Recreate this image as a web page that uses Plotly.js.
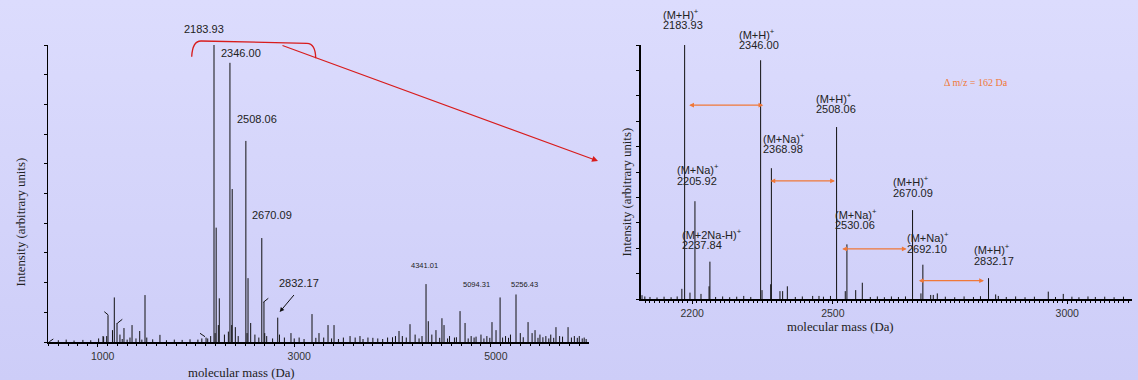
<!DOCTYPE html>
<html><head><meta charset="utf-8">
<script src="https://cdn.plot.ly/plotly-3.0.1.min.js"></script>
<style>
html,body{margin:0;padding:0;width:1138px;height:380px;overflow:hidden;background:linear-gradient(to bottom,#dcdcfd 0%,#cdcdf8 100%);}
#chart{width:1138px;height:380px;}
</style>
</head><body><div id="chart"></div>
<script>
// ---------- DATA ----------
// main (M+H)+ series
const mhMass = [2183.93, 2346.00, 2508.06, 2670.09, 2832.17];
const mhInt  = [100, 94, 67.7, 35, 8.2];
// (M+Na)+ series
const naMass = [2205.92, 2368.98, 2530.06, 2692.10];
const naInt  = [38.5, 51.5, 21.5, 13.5];
// (M+2Na-H)+
const na2Mass = [2237.84];
const na2Int  = [14.7];
// labelled high-mass peaks (full spectrum)
const hiMass = [4341.01, 5094.31, 5256.43];
const hiInt  = [19.5, 15, 16];
// other peaks & baseline noise, full spectrum
const fullMinorMass = [600,680,760,850,930,1010,1054.6,1061,1092,1105.5,1151,1169.6,1197,1227,1250,1268,1300,1329,1350,1390,1428,1450,1482,1500,1560,1634,1700,1780,1860,1940,2020,2060,2103,2120,2150,2195,2228,2290,2330,2364,2401,2430,2520,2557,2600,2640,2700,2720,2780,2850,2900,2967,3000,3050,3100,3181,3220,3252,3300,3344,3380,3405,3450,3500,3568,3620,3669,3700,3750,3800,3850,3900,3950,4000,4030,4066,4100,4140,4178,4230,4270,4300,4364,4400,4442,4480,4503,4524,4560,4580,4630,4650,4687,4738,4770,4800,4830,4850,4900,4930,4960,4990,5012,5053,5120,5150,5180,5200,5300,5330,5379,5420,5450,5480,5500,5530,5560,5590,5610,5640,5663,5700,5730,5786,5820,5850,5880,5900,5930,5950,5970];
const fullMinorInt  = [0.6,0.8,0.5,0.7,0.6,1.2,2,1.8,2,9,4,15,6.4,2.5,1.0,4.7,0.8,1.5,5.7,1.2,3.7,0.8,15.8,1.5,0.9,2.4,0.6,0.8,0.7,0.9,0.8,1.2,1.5,1.2,2,3,5.7,2.5,3.5,5.7,5,2,3,6.4,2.5,1.5,3,2,1.2,2.5,1.5,3,1.2,1.5,1.0,9.4,1.4,3,1.5,5.7,1.2,5.7,1.0,1.5,2,1.5,2,1.0,1.5,1.4,1.2,1.0,1.5,1.6,2.0,3.7,2,1.5,6,2.5,1.2,2,7,2.5,4,1.4,8,5.7,1.2,2,1.5,1.6,10.4,6.4,1.2,2,1.5,1.8,2.5,1.2,2,1.4,6.7,4,1.5,2,1.4,2.5,3,1.6,6.7,3,4,1.4,2.5,1.6,2,1.2,2.5,1.4,5,2,1.8,5,1.5,2,1.4,2,1.2,1.5,1.0];
// other peaks & baseline noise, zoomed spectrum
const zoomMinorMass = [2093,2099,2110,2125,2140,2155,2168,2178,2195.3,2218.8,2236,2250,2265,2280,2295,2310,2325,2349,2367.5,2387.3,2393,2403,2420,2435,2457,2470.5,2480,2495,2526.6,2548.8,2562.9,2580,2595,2610,2625,2640,2655,2688,2708.8,2714.3,2722.9,2740,2760,2780,2800,2815,2847.4,2853,2870,2890,2910,2930,2959.6,2975,2991.6,3010,3025,3044.3,3060,3080,3100,3120];
const zoomMinorInt  = [1.5,1,0.8,0.6,0.9,0.7,1.0,4,2.5,2,5,0.8,1.0,0.7,0.9,1.2,0.8,3.5,5.8,3.1,3.1,5,0.8,1.0,1.2,1.2,0.9,1.2,3.1,3.5,6.4,0.8,1.0,0.7,1.0,0.8,1.0,2.2,1.6,1.6,2.2,0.9,0.7,1.0,0.8,1.1,1.8,1.2,0.8,1.0,0.7,0.9,2.9,0.8,2,0.9,0.7,1,0.8,0.9,0.7,0.9];
// axis ticks
const fullTicks = [1000, 3000, 5000];
const zoomTicks = [2200, 2500, 3000];
// ion labels for zoom panel
const mhLabel = '(M+H)<sup>+</sup>';
const naLabel = '(M+Na)<sup>+</sup>';
const na2Label = '(M+2Na-H)<sup>+</sup>';

// ---------- HELPERS ----------
function sticks(masses, ints) {
  const x = [], y = [];
  for (let k = 0; k < masses.length; k++) {
    for (let i = 0; i < masses[k].length; i++) {
      x.push(masses[k][i], masses[k][i], null);
      y.push(0, ints[k][i], null);
    }
  }
  return {x, y};
}
// plot area: left 48px, top 45px, width 1084, height 297
const PX = p => (p - 48) / 1084;
const PY = p => (342 - p) / 297;

const sFull = sticks([fullMinorMass, hiMass, na2Mass, naMass, mhMass], [fullMinorInt, hiInt, na2Int, naInt, mhInt]);
const sZoom = sticks([zoomMinorMass, na2Mass, naMass, mhMass], [zoomMinorInt, na2Int, naInt, mhInt]);

const traces = [
  {type:'scatter', mode:'lines', x:sFull.x, y:sFull.y, xaxis:'x', yaxis:'y',
   line:{color:'#111', width:1}, hoverinfo:'skip', showlegend:false},
  {type:'scatter', mode:'lines', x:sZoom.x, y:sZoom.y, xaxis:'x2', yaxis:'y2',
   line:{color:'#111', width:1}, hoverinfo:'skip', showlegend:false}
];

const sans = 'Arial, "Liberation Sans", sans-serif';
const serif = '"Times New Roman", "Liberation Serif", serif';
const txtColor = '#222';

const ann = [];
function txt(text, x, y, size, xanchor, extra) {
  ann.push(Object.assign({text, x:PX(x), y:PY(y), xref:'paper', yref:'paper', showarrow:false,
    xanchor:xanchor||'center', yanchor:'middle', font:{family:sans, size:size, color:txtColor}}, extra||{}));
}
// full spectrum labels
txt(mhMass[0].toFixed(2), 203.5, 29, 11);
txt(mhMass[1].toFixed(2), 240.5, 53, 11);
txt(mhMass[2].toFixed(2), 256.5, 119, 11);
txt(mhMass[3].toFixed(2), 272, 215, 11);
txt(mhMass[4].toFixed(2), 298.5, 283, 11);
txt(hiMass[0].toFixed(2), 424, 265, 7.5);
txt(hiMass[1].toFixed(2), 476.7, 284, 7.5);
txt(hiMass[2].toFixed(2), 524.5, 284, 7.5);
// zoom labels
function ion(label, mass, x, y1, y2) {
  txt(label, x - 2, y1, 11, 'left');
  txt(mass.toFixed(2), x - 2, y2, 11, 'left');
}
ion(mhLabel, mhMass[0], 662.7, 13.5, 25);
ion(mhLabel, mhMass[1], 739, 33.5, 45);
ion(mhLabel, mhMass[2], 816, 97.5, 109);
ion(naLabel, naMass[1], 763.3, 137.5, 149);
ion(naLabel, naMass[0], 677.3, 169, 181);
ion(na2Label, na2Mass[0], 682, 233.5, 245);
ion(naLabel, naMass[2], 835, 213.5, 225);
ion(mhLabel, mhMass[3], 892.7, 181, 192.7);
ion(naLabel, naMass[3], 906.7, 237, 249.3);
ion(mhLabel, mhMass[4], 974, 249, 261);
// delta annotation
txt('\u0394 m/z = 162 Da', 976, 82.3, 10, 'center', {font:{family:serif, size:10, color:'#f07838'}});
// axis titles
const titleFont = {family:serif, size:12.8, color:txtColor};
txt('molecular mass (Da)', 241.7, 372.7, 12.8, 'center', {font:titleFont});
txt('molecular mass (Da)', 840, 326.7, 12.8, 'center', {font:titleFont});
txt('Intensity (arbitrary units)', 20.5, 222, 12.7, 'center', {textangle:-90, font:titleFont});
txt('Intensity (arbitrary units)', 626, 192.5, 12.7, 'center', {textangle:-90, font:titleFont});
// orange double arrows (data coordinates of zoom panel)
const orange = '#f07838';
function dbl(m1, m2, yv) {
  ann.push({text:'', x:m2, y:yv, xref:'x2', yref:'y2', ax:m1, ay:yv, axref:'x2', ayref:'y2',
    showarrow:true, arrowside:'end+start', arrowhead:2, startarrowhead:2, arrowsize:0.8, startarrowsize:0.8,
    arrowwidth:1.2, arrowcolor:orange, standoff:0, startstandoff:0});
}
dbl(2190.4, 2351.7, 76.3);
dbl(2363.8, 2504.6, 46.5);
dbl(2516.8, 2657.6, 19.7);
dbl(2680.2, 2822.5, 7.2);
// black arrow to 2832.17 in full spectrum
ann.push({text:'', x:PX(279.7), y:PY(312), xref:'paper', yref:'paper', ax:15.5, ay:-18.5,
  showarrow:true, arrowhead:2, arrowsize:0.9, arrowwidth:1, arrowcolor:'#111', standoff:0});
// red arrow from bracket to zoomed panel
ann.push({text:'', x:PX(598), y:PY(161), xref:'paper', yref:'paper', ax:-317, ay:-116,
  showarrow:true, arrowhead:2, arrowsize:1, arrowwidth:1.2, arrowcolor:'#d81c1c', standoff:0});

// shapes
const shapes = [];
const P = (x, y) => PX(x).toFixed(5) + ',' + PY(y).toFixed(5);
shapes.push({type:'path', xref:'paper', yref:'paper',
  path:'M' + P(191.7,56.7) + ' Q' + P(192.5,41) + ' ' + P(201,41) + ' L' + P(307,43.3) +
       ' Q' + P(315.5,43.6) + ' ' + P(315.7,58.3),
  line:{color:'#d81c1c', width:1.3}});
function seg(x0, y0, x1, y1) {
  shapes.push({type:'line', xref:'paper', yref:'paper', x0:PX(x0), y0:PY(y0), x1:PX(x1), y1:PY(y1),
    line:{color:'#111', width:1}});
}
seg(104.3,311.7,108.3,315);
seg(117.3,323.3,122.3,319.3);
seg(200,333.3,205,336.7);
seg(263.3,302.3,268.3,298.3);
seg(49.3,341.7,53.3,339);

const xBase = {showline:true, linecolor:'#000', linewidth:2, showgrid:false, zeroline:false,
  ticks:'outside', ticklen:3, tickwidth:1, tickcolor:'#000',
  tickfont:{family:sans, size:10.5, color:'#333'}, tickmode:'array'};
const yBase = {showline:true, linecolor:'#000', linewidth:1.5, showgrid:false, zeroline:false,
  ticks:'outside', ticklen:3, tickwidth:1, tickcolor:'#000', showticklabels:false,
  range:[0,100], tickmode:'linear', tick0:0, dtick:10};

const layout = {
  width:1138, height:380,
  margin:{l:48, r:6, t:45, b:38, pad:0},
  paper_bgcolor:'rgba(0,0,0,0)', plot_bgcolor:'rgba(0,0,0,0)',
  showlegend:false,
  xaxis:Object.assign({}, xBase, {domain:[0, PX(589)], range:[495, 5999], anchor:'y',
    tickvals:fullTicks, ticktext:fullTicks.map(String), ticklabelshift:5,
    minor:{ticks:'outside', ticklen:2, dtick:100, tickcolor:'#000', tickwidth:1}}),
  yaxis:Object.assign({}, yBase, {domain:[0,1], anchor:'x'}),
  xaxis2:Object.assign({}, xBase, {domain:[PX(640.7), 1], range:[2090.2, 3138.2], anchor:'y2',
    tickvals:zoomTicks, ticktext:zoomTicks.map(String),
    minor:{ticks:'outside', ticklen:2, dtick:10, tickcolor:'#000', tickwidth:1}}),
  yaxis2:Object.assign({}, yBase, {domain:[PY(299),1], anchor:'x2'}),
  annotations:ann,
  shapes:shapes
};

Plotly.newPlot('chart', traces, layout, {staticPlot:true, displayModeBar:false});
</script>
</body></html>
